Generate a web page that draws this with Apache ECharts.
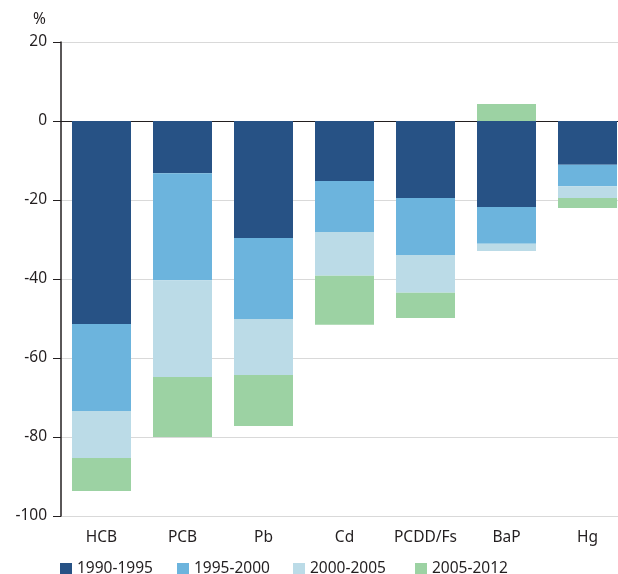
<!DOCTYPE html>
<html><head><meta charset="utf-8">
<script src="https://cdn.jsdelivr.net/npm/echarts@6/dist/echarts.min.js"></script>
<style>html,body{margin:0;padding:0;background:#fff}#c{width:618px;height:574px}</style>
</head><body><div id="c"></div>
<script>
const categories = ['HCB','PCB','Pb','Cd','PCDD/Fs','BaP','Hg'];
const periods = ['1990-1995','1995-2000','2000-2005','2005-2012'];
const s1990_1995 = [-51.4, -13.2, -29.6, -15.2, -19.5, -21.8, -11.1];
const s1995_2000 = [-22.0, -27.1, -20.5, -12.9, -14.4, -9.3, -5.4];
const s2000_2005 = [-11.9, -24.5, -14.2, -11.1, -9.6, -1.8, -3.0];
const s2005_2012 = [-8.4, -15.2, -12.9, -12.4, -6.4, 4.3, -2.5];
const yTicks = [-100, -80, -60, -40, -20, 0, 20];

const colors = ['#275285', '#6cb4dd', '#bbdbe7', '#9cd2a3'];
const seriesData = [s1990_1995, s1995_2000, s2000_2005, s2005_2012];
const font = 'Noto Sans';
const fs = 15.5;
const textColor = '#231f20';
const legendLefts = [55, 172, 288, 410];

const chart = echarts.init(document.getElementById('c'), null, {renderer: 'canvas'});
chart.setOption({
  animation: false,
  color: colors,
  textStyle: {fontFamily: font, color: textColor},
  grid: {left: 61, width: 567, top: 42, height: 474, containLabel: false, outerBoundsMode: 'none'},
  legend: periods.map((p, i) => ({
    data: [p], left: legendLefts[i], top: 556, itemWidth: 12, itemHeight: 12, itemGap: 6,
    icon: 'rect', selectedMode: false,
    textStyle: {fontFamily: font, fontSize: fs, color: textColor, padding: [0, 0, 0, 0]}
  })),
  xAxis: {
    type: 'category', data: categories,
    axisLine: {show: false, onZero: false}, axisTick: {show: false},
    axisLabel: {fontFamily: font, fontSize: fs, color: textColor, margin: 14, interval: 0},
    position: 'bottom'
  },
  yAxis: {
    type: 'value', min: -100, max: 20, interval: 20,
    name: '%', nameLocation: 'end', nameGap: 14,
    nameTextStyle: {fontFamily: font, fontSize: fs, color: textColor, align: 'right', padding: [0, 15, 0, 0]},
    axisLine: {show: true, lineStyle: {color: textColor, width: 1.5}},
    axisTick: {show: true, length: 8, lineStyle: {color: textColor, width: 1}},
    axisLabel: {fontFamily: font, fontSize: fs, color: textColor, margin: 14,
      formatter: v => yTicks.includes(v) ? String(v) : ''},
    splitLine: {show: true, lineStyle: {color: ['#d9d9d9','#d9d9d9','#d9d9d9','#d9d9d9','#d9d9d9','#231f20','#d9d9d9'], width: 1.2}}
  },
  series: seriesData.map((d, i) => ({
    name: periods[i], type: 'bar', stack: 'total', data: d,
    barWidth: 59, itemStyle: {color: colors[i]}
  }))
});
</script></body></html>
